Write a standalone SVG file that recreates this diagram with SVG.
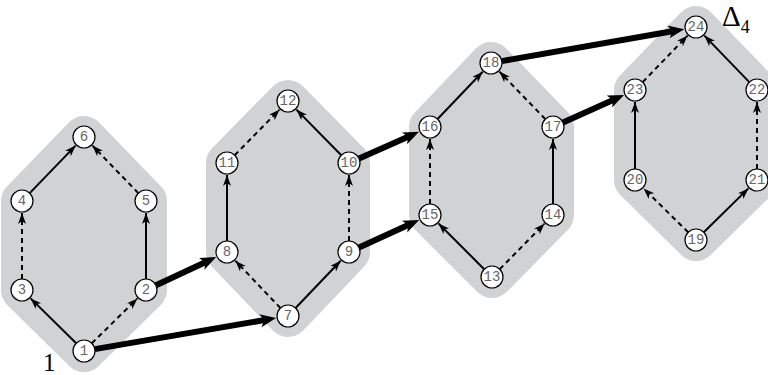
<svg xmlns="http://www.w3.org/2000/svg" width="768" height="375" viewBox="0 0 768 375">
<defs>
<marker id="ah" markerUnits="userSpaceOnUse" markerWidth="12" markerHeight="9" refX="11" refY="4" orient="auto" viewBox="0 0 12 9">
<path d="M0,0 L11,4 L0,8 L3,4 z" fill="#000"/>
</marker>
<marker id="ahb" markerUnits="userSpaceOnUse" markerWidth="17" markerHeight="14" refX="4" refY="6.5" orient="auto" viewBox="0 0 17 14">
<path d="M0,0 L16,6.5 L0,13 L4,6.5 z" fill="#000"/>
</marker>
</defs>
<style>
.hex{fill:#d1d2d4;stroke:#d1d2d4;stroke-width:42;stroke-linejoin:round}
.e{stroke:#000;stroke-width:2;fill:none;marker-end:url(#ah)}
.d{stroke-dasharray:5,4}
.t{stroke:#000;stroke-width:6;fill:none;marker-end:url(#ahb)}
.n circle{fill:#fff;stroke:#000;stroke-width:1.2}
.n text{font-family:"Liberation Mono",monospace;font-size:14px;fill:#666;text-anchor:middle;dominant-baseline:central}
.lab{font-family:"Liberation Serif",serif;fill:#000}
</style>
<g id="backgrounds">
<polygon class="hex" points="84,351 146,290 146,201 84,137 22,201 22,290"/>
<polygon class="hex" points="288,316 349,252 349,163 288,101 227,163 227,252"/>
<polygon class="hex" points="492,277 553,215 553,127 491,63 430,127 430,215"/>
<polygon class="hex" points="696,240 757,180 757,90 696,27 635,90 635,180"/>
</g>
<g id="connectors">
<line class="e" x1="76.2" y1="343.3" x2="30.6" y2="298.4"/>
<line class="e d" x1="91.8" y1="343.3" x2="137.4" y2="298.4"/>
<line class="e d" x1="22" y1="279" x2="22" y2="213"/>
<line class="e" x1="146" y1="279" x2="146" y2="213"/>
<line class="e" x1="29.7" y1="193.1" x2="75.6" y2="145.6"/>
<line class="e d" x1="138.3" y1="193.1" x2="92.4" y2="145.6"/>
<line class="e d" x1="280.4" y1="308" x2="235.3" y2="260.7"/>
<line class="e" x1="295.6" y1="308" x2="340.7" y2="260.7"/>
<line class="e" x1="227" y1="241" x2="227" y2="175"/>
<line class="e d" x1="349" y1="241" x2="349" y2="175"/>
<line class="e d" x1="234.7" y1="155.2" x2="279.6" y2="109.6"/>
<line class="e" x1="341.3" y1="155.2" x2="296.4" y2="109.6"/>
<line class="e" x1="484.2" y1="269.2" x2="438.5" y2="223.5"/>
<line class="e d" x1="499.7" y1="269.2" x2="544.6" y2="223.6"/>
<line class="e d" x1="430" y1="204" x2="430" y2="139"/>
<line class="e" x1="553" y1="204" x2="553" y2="139"/>
<line class="e" x1="437.6" y1="119" x2="482.7" y2="71.7"/>
<line class="e d" x1="545.3" y1="119.1" x2="499.4" y2="71.6"/>
<line class="e d" x1="688.2" y1="232.3" x2="643.6" y2="188.4"/>
<line class="e" x1="703.8" y1="232.3" x2="748.4" y2="188.4"/>
<line class="e" x1="635" y1="169" x2="635" y2="102"/>
<line class="e d" x1="757" y1="169" x2="757" y2="102"/>
<line class="e d" x1="642.7" y1="82.1" x2="687.6" y2="35.6"/>
<line class="e" x1="749.3" y1="82.1" x2="704.4" y2="35.6"/>
<line class="t" x1="94.8" y1="349.1" x2="264.3" y2="320.1"/>
<line class="t" x1="156" y1="285.3" x2="205.3" y2="262.2"/>
<line class="t" x1="359" y1="247.4" x2="408.2" y2="225"/>
<line class="t" x1="359.1" y1="158.5" x2="408.1" y2="136.7"/>
<line class="t" x1="563" y1="122.5" x2="613.1" y2="99.9"/>
<line class="t" x1="501.8" y1="61.1" x2="672.4" y2="31.2"/>
</g>
<g id="n1" class="n"><circle cx="84" cy="351" r="11"/><text x="84" y="351">1</text></g>
<g id="n2" class="n"><circle cx="146" cy="290" r="11"/><text x="146" y="290">2</text></g>
<g id="n3" class="n"><circle cx="22" cy="290" r="11"/><text x="22" y="290">3</text></g>
<g id="n4" class="n"><circle cx="22" cy="201" r="11"/><text x="22" y="201">4</text></g>
<g id="n5" class="n"><circle cx="146" cy="201" r="11"/><text x="146" y="201">5</text></g>
<g id="n6" class="n"><circle cx="84" cy="137" r="11"/><text x="84" y="137">6</text></g>
<g id="n7" class="n"><circle cx="288" cy="316" r="11"/><text x="288" y="316">7</text></g>
<g id="n8" class="n"><circle cx="227" cy="252" r="11"/><text x="227" y="252">8</text></g>
<g id="n9" class="n"><circle cx="349" cy="252" r="11"/><text x="349" y="252">9</text></g>
<g id="n10" class="n"><circle cx="349" cy="163" r="11"/><text x="349" y="163">10</text></g>
<g id="n11" class="n"><circle cx="227" cy="163" r="11"/><text x="227" y="163">11</text></g>
<g id="n12" class="n"><circle cx="288" cy="101" r="11"/><text x="288" y="101">12</text></g>
<g id="n13" class="n"><circle cx="492" cy="277" r="11"/><text x="492" y="277">13</text></g>
<g id="n14" class="n"><circle cx="553" cy="215" r="11"/><text x="553" y="215">14</text></g>
<g id="n15" class="n"><circle cx="430" cy="215" r="11"/><text x="430" y="215">15</text></g>
<g id="n16" class="n"><circle cx="430" cy="127" r="11"/><text x="430" y="127">16</text></g>
<g id="n17" class="n"><circle cx="553" cy="127" r="11"/><text x="553" y="127">17</text></g>
<g id="n18" class="n"><circle cx="491" cy="63" r="11"/><text x="491" y="63">18</text></g>
<g id="n19" class="n"><circle cx="696" cy="240" r="11"/><text x="696" y="240">19</text></g>
<g id="n20" class="n"><circle cx="635" cy="180" r="11"/><text x="635" y="180">20</text></g>
<g id="n21" class="n"><circle cx="757" cy="180" r="11"/><text x="757" y="180">21</text></g>
<g id="n22" class="n"><circle cx="757" cy="90" r="11"/><text x="757" y="90">22</text></g>
<g id="n23" class="n"><circle cx="635" cy="90" r="11"/><text x="635" y="90">23</text></g>
<g id="n24" class="n"><circle cx="696" cy="27" r="11"/><text x="696" y="27">24</text></g>
<g id="labels">
<text class="lab" x="722" y="26" font-size="29">Δ<tspan font-size="18" dy="7">4</tspan></text>
<text class="lab" x="43" y="371" font-size="25">1</text>
</g>
</svg>
